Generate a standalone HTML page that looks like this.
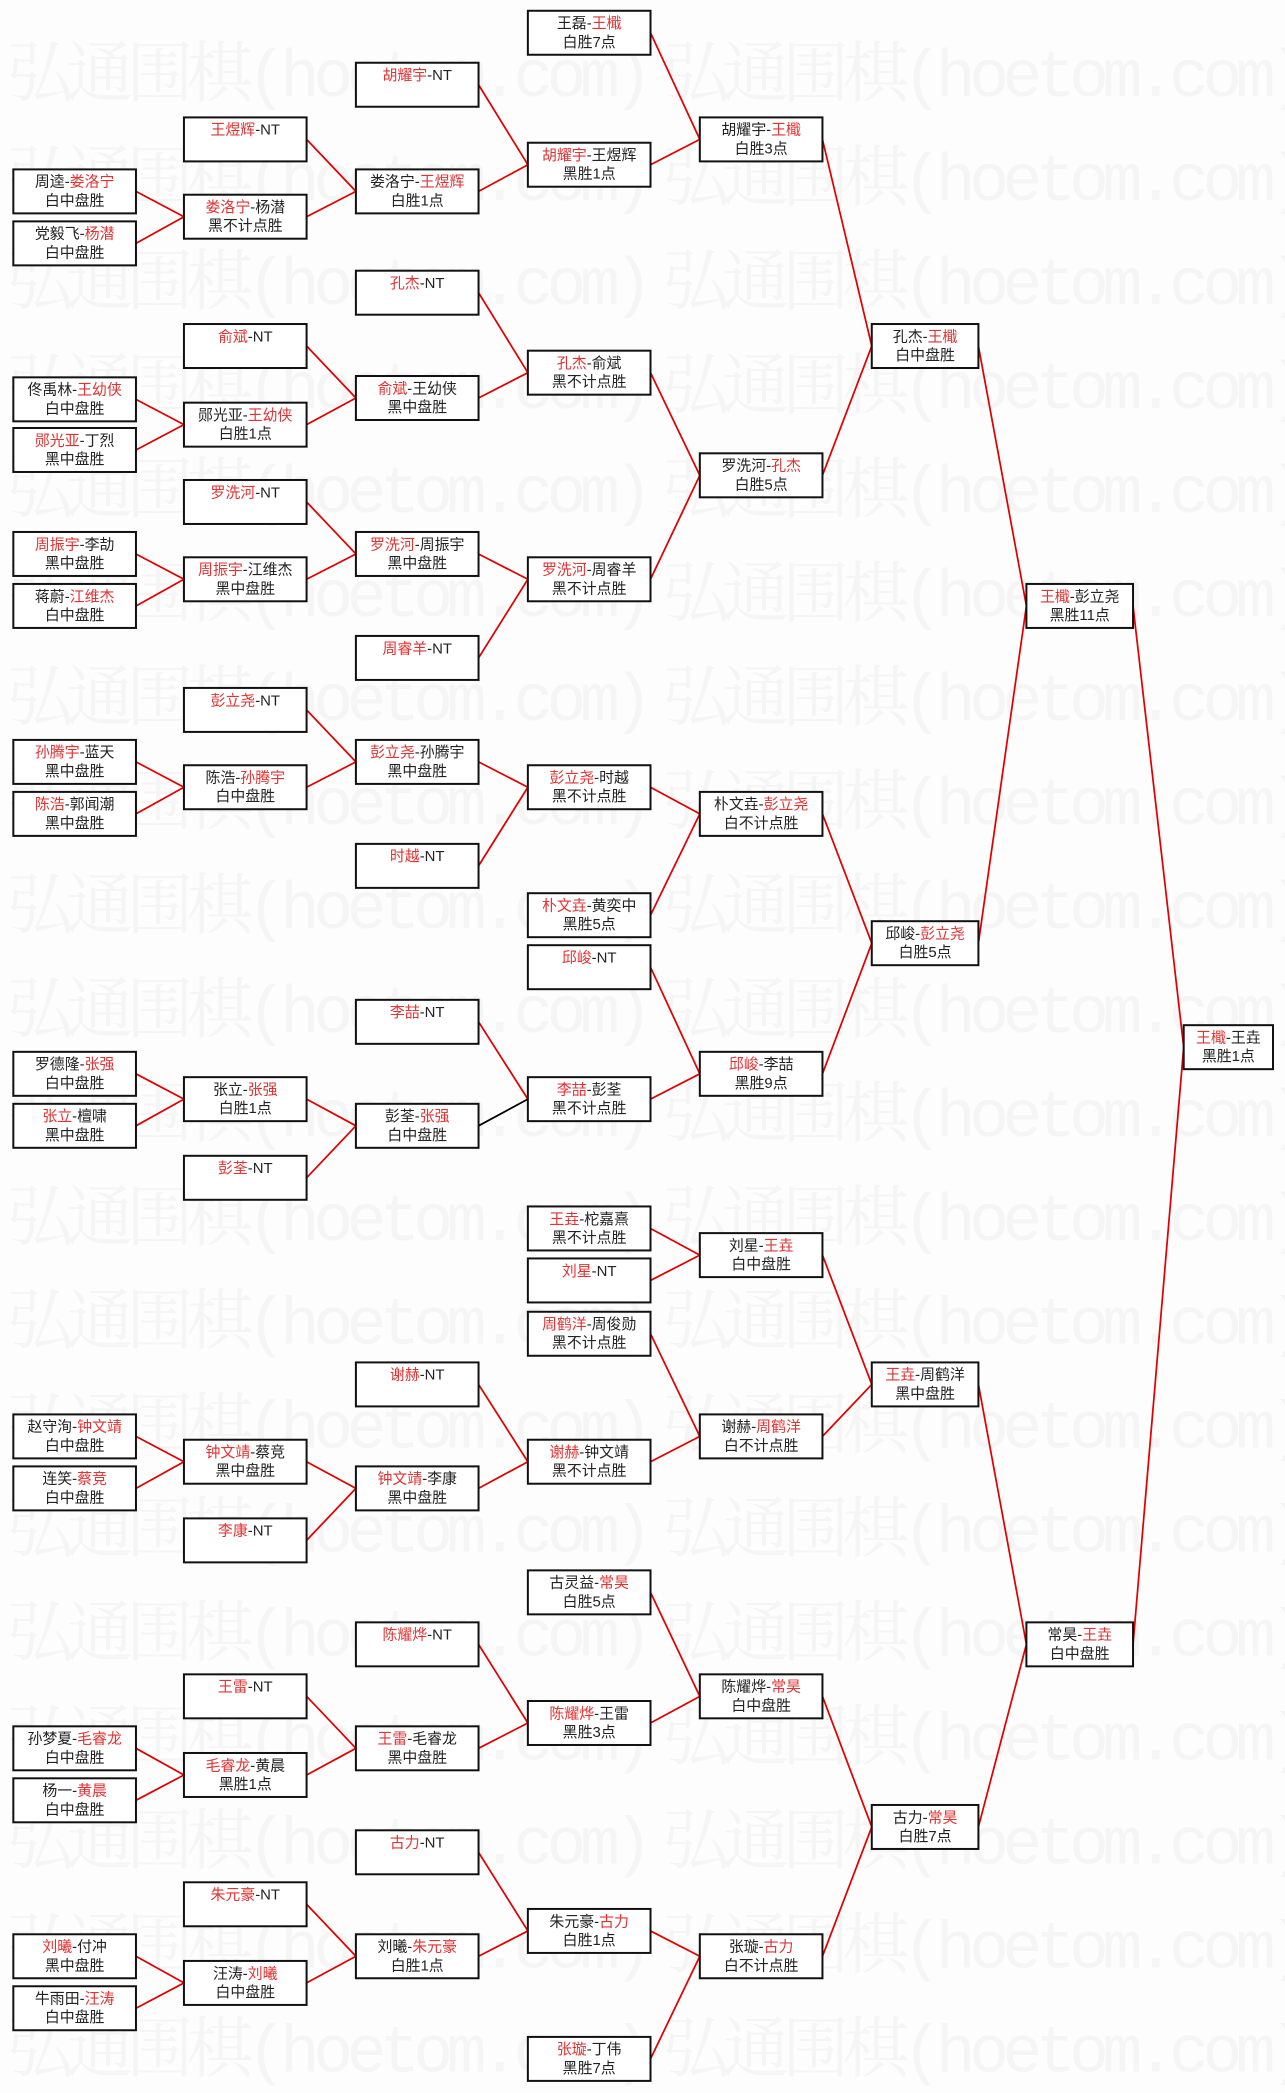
<!DOCTYPE html>
<html><head><meta charset="utf-8"><style>
html,body{margin:0;padding:0;background:#fdfdfd;}
svg{display:block}
rect.b{fill:#fff;stroke:#111;stroke-width:1.5}
text{font-family:"Liberation Sans","Noto Sans CJK SC","WenQuanYi Zen Hei",sans-serif;font-size:11.2px;fill:#222;text-anchor:middle}
.r{fill:#e23232}
.wm{font-family:"Liberation Mono","Noto Serif CJK SC",monospace;font-size:50px;fill:#f5f5f5;text-anchor:start}
</style></head><body>
<svg width="1285" height="2093" viewBox="0 0 964 1570" xmlns="http://www.w3.org/2000/svg">
<rect width="964" height="1570" fill="#fdfdfd"/>
<g>
<text class="wm" x="5" y="72" textLength="485">弘通围棋(hoetom.com)</text><text class="wm" x="497" y="72" textLength="485">弘通围棋(hoetom.com)</text>
<text class="wm" x="5" y="150" textLength="485">弘通围棋(hoetom.com)</text><text class="wm" x="497" y="150" textLength="485">弘通围棋(hoetom.com)</text>
<text class="wm" x="5" y="228" textLength="485">弘通围棋(hoetom.com)</text><text class="wm" x="497" y="228" textLength="485">弘通围棋(hoetom.com)</text>
<text class="wm" x="5" y="306" textLength="485">弘通围棋(hoetom.com)</text><text class="wm" x="497" y="306" textLength="485">弘通围棋(hoetom.com)</text>
<text class="wm" x="5" y="384" textLength="485">弘通围棋(hoetom.com)</text><text class="wm" x="497" y="384" textLength="485">弘通围棋(hoetom.com)</text>
<text class="wm" x="5" y="462" textLength="485">弘通围棋(hoetom.com)</text><text class="wm" x="497" y="462" textLength="485">弘通围棋(hoetom.com)</text>
<text class="wm" x="5" y="540" textLength="485">弘通围棋(hoetom.com)</text><text class="wm" x="497" y="540" textLength="485">弘通围棋(hoetom.com)</text>
<text class="wm" x="5" y="618" textLength="485">弘通围棋(hoetom.com)</text><text class="wm" x="497" y="618" textLength="485">弘通围棋(hoetom.com)</text>
<text class="wm" x="5" y="696" textLength="485">弘通围棋(hoetom.com)</text><text class="wm" x="497" y="696" textLength="485">弘通围棋(hoetom.com)</text>
<text class="wm" x="5" y="774" textLength="485">弘通围棋(hoetom.com)</text><text class="wm" x="497" y="774" textLength="485">弘通围棋(hoetom.com)</text>
<text class="wm" x="5" y="852" textLength="485">弘通围棋(hoetom.com)</text><text class="wm" x="497" y="852" textLength="485">弘通围棋(hoetom.com)</text>
<text class="wm" x="5" y="930" textLength="485">弘通围棋(hoetom.com)</text><text class="wm" x="497" y="930" textLength="485">弘通围棋(hoetom.com)</text>
<text class="wm" x="5" y="1008" textLength="485">弘通围棋(hoetom.com)</text><text class="wm" x="497" y="1008" textLength="485">弘通围棋(hoetom.com)</text>
<text class="wm" x="5" y="1086" textLength="485">弘通围棋(hoetom.com)</text><text class="wm" x="497" y="1086" textLength="485">弘通围棋(hoetom.com)</text>
<text class="wm" x="5" y="1164" textLength="485">弘通围棋(hoetom.com)</text><text class="wm" x="497" y="1164" textLength="485">弘通围棋(hoetom.com)</text>
<text class="wm" x="5" y="1242" textLength="485">弘通围棋(hoetom.com)</text><text class="wm" x="497" y="1242" textLength="485">弘通围棋(hoetom.com)</text>
<text class="wm" x="5" y="1320" textLength="485">弘通围棋(hoetom.com)</text><text class="wm" x="497" y="1320" textLength="485">弘通围棋(hoetom.com)</text>
<text class="wm" x="5" y="1398" textLength="485">弘通围棋(hoetom.com)</text><text class="wm" x="497" y="1398" textLength="485">弘通围棋(hoetom.com)</text>
<text class="wm" x="5" y="1476" textLength="485">弘通围棋(hoetom.com)</text><text class="wm" x="497" y="1476" textLength="485">弘通围棋(hoetom.com)</text>
<text class="wm" x="5" y="1554" textLength="485">弘通围棋(hoetom.com)</text><text class="wm" x="497" y="1554" textLength="485">弘通围棋(hoetom.com)</text>
</g>
<path fill="none" stroke="#e00000" stroke-width="1.3" d="
M102 143.5L138 162.5 M102 182.5L138 162.5
M102 299.5L138 318.5 M102 337.5L138 318.5
M102 415.5L138 434.5 M102 454.5L138 434.5
M102 571.5L138 590.5 M102 610.5L138 590.5
M102 805.5L138 824.5 M102 844.5L138 824.5
M102 1077.5L138 1096.5 M102 1116.5L138 1096.5
M102 1311.5L138 1331.5 M102 1350.5L138 1331.5
M102 1467.5L138 1487.5 M102 1506.5L138 1487.5
M230 104.5L267 143.5 M230 162.5L267 143.5
M230 259.5L267 298.5 M230 318.5L267 298.5
M230 376.5L267 415.5 M230 434.5L267 415.5
M230 532.5L267 571.5 M230 590.5L267 571.5
M230 824.5L267 844.5 M230 883.5L267 844.5
M230 1096.5L267 1116.5 M230 1155.5L267 1116.5
M230 1272.5L267 1311.5 M230 1331.5L267 1311.5
M230 1428.5L267 1467.5 M230 1487.5L267 1467.5
M359 63.5L396 123.5 M359 143.5L396 123.5
M359 219.5L396 279.5 M359 298.5L396 279.5
M359 415.5L396 434.5 M359 493.5L396 434.5
M359 571.5L396 590.5 M359 649.5L396 590.5
M359 766.5L396 824.5
M359 1038.5L396 1096.5 M359 1116.5L396 1096.5
M359 1233.5L396 1292.5 M359 1311.5L396 1292.5
M359 1389.5L396 1448.5 M359 1467.5L396 1448.5
M488 24.5L525 104.5 M488 123.5L525 104.5
M488 279.5L525 356.5 M488 434.5L525 356.5
M488 590.5L525 610.5 M488 686.5L525 610.5
M488 725.5L525 805.5 M488 824.5L525 805.5
M488 921.5L525 941.5 M488 960.5L525 941.5
M488 1000.5L525 1077.5 M488 1096.5L525 1077.5
M488 1194.5L525 1272.5 M488 1292.5L525 1272.5
M488 1448.5L525 1467.5 M488 1544.5L525 1467.5
M617 104.5L654 259.5 M617 356.5L654 259.5
M617 610.5L654 707.5 M617 805.5L654 707.5
M617 941.5L654 1038.5 M617 1077.5L654 1038.5
M617 1272.5L654 1370.5 M617 1467.5L654 1370.5
M734 259.5L770 454.5 M734 707.5L770 454.5
M734 1038.5L770 1233.5 M734 1370.5L770 1233.5
M850 454.5L888 785.5 M850 1233.5L888 785.5"/>
<path fill="none" stroke="#000" stroke-width="1.3" d="M359 844.5L396 824.5"/>

<!-- col0 -->
<g transform="translate(10,127)"><rect class="b" width="92" height="33"/><text x="46" y="13">周逵-<tspan class="r">娄洛宁</tspan></text><text x="46" y="27">白中盘胜</text></g>
<g transform="translate(10,166)"><rect class="b" width="92" height="33"/><text x="46" y="13">党毅飞-<tspan class="r">杨潜</tspan></text><text x="46" y="27">白中盘胜</text></g>
<g transform="translate(10,283)"><rect class="b" width="92" height="33"/><text x="46" y="13">佟禹林-<tspan class="r">王幼侠</tspan></text><text x="46" y="27">白中盘胜</text></g>
<g transform="translate(10,321)"><rect class="b" width="92" height="33"/><text x="46" y="13"><tspan class="r">郧光亚</tspan>-丁烈</text><text x="46" y="27">黑中盘胜</text></g>
<g transform="translate(10,399)"><rect class="b" width="92" height="33"/><text x="46" y="13"><tspan class="r">周振宇</tspan>-李劼</text><text x="46" y="27">黑中盘胜</text></g>
<g transform="translate(10,438)"><rect class="b" width="92" height="33"/><text x="46" y="13">蒋蔚-<tspan class="r">江维杰</tspan></text><text x="46" y="27">白中盘胜</text></g>
<g transform="translate(10,555)"><rect class="b" width="92" height="33"/><text x="46" y="13"><tspan class="r">孙腾宇</tspan>-蓝天</text><text x="46" y="27">黑中盘胜</text></g>
<g transform="translate(10,594)"><rect class="b" width="92" height="33"/><text x="46" y="13"><tspan class="r">陈浩</tspan>-郭闻潮</text><text x="46" y="27">黑中盘胜</text></g>
<g transform="translate(10,789)"><rect class="b" width="92" height="33"/><text x="46" y="13">罗德隆-<tspan class="r">张强</tspan></text><text x="46" y="27">白中盘胜</text></g>
<g transform="translate(10,828)"><rect class="b" width="92" height="33"/><text x="46" y="13"><tspan class="r">张立</tspan>-檀啸</text><text x="46" y="27">黑中盘胜</text></g>
<g transform="translate(10,1061)"><rect class="b" width="92" height="33"/><text x="46" y="13">赵守洵-<tspan class="r">钟文靖</tspan></text><text x="46" y="27">白中盘胜</text></g>
<g transform="translate(10,1100)"><rect class="b" width="92" height="33"/><text x="46" y="13">连笑-<tspan class="r">蔡竞</tspan></text><text x="46" y="27">白中盘胜</text></g>
<g transform="translate(10,1295)"><rect class="b" width="92" height="33"/><text x="46" y="13">孙梦夏-<tspan class="r">毛睿龙</tspan></text><text x="46" y="27">白中盘胜</text></g>
<g transform="translate(10,1334)"><rect class="b" width="92" height="33"/><text x="46" y="13">杨一-<tspan class="r">黄晨</tspan></text><text x="46" y="27">白中盘胜</text></g>
<g transform="translate(10,1451)"><rect class="b" width="92" height="33"/><text x="46" y="13"><tspan class="r">刘曦</tspan>-付冲</text><text x="46" y="27">黑中盘胜</text></g>
<g transform="translate(10,1490)"><rect class="b" width="92" height="33"/><text x="46" y="13">牛雨田-<tspan class="r">汪涛</tspan></text><text x="46" y="27">白中盘胜</text></g>

<!-- col1 -->
<g transform="translate(138,88)"><rect class="b" width="92" height="33"/><text x="46" y="13"><tspan class="r">王煜辉</tspan>-NT</text></g>
<g transform="translate(138,146)"><rect class="b" width="92" height="33"/><text x="46" y="13"><tspan class="r">娄洛宁</tspan>-杨潜</text><text x="46" y="27">黑不计点胜</text></g>
<g transform="translate(138,243)"><rect class="b" width="92" height="33"/><text x="46" y="13"><tspan class="r">俞斌</tspan>-NT</text></g>
<g transform="translate(138,302)"><rect class="b" width="92" height="33"/><text x="46" y="13">郧光亚-<tspan class="r">王幼侠</tspan></text><text x="46" y="27">白胜1点</text></g>
<g transform="translate(138,360)"><rect class="b" width="92" height="33"/><text x="46" y="13"><tspan class="r">罗洗河</tspan>-NT</text></g>
<g transform="translate(138,418)"><rect class="b" width="92" height="33"/><text x="46" y="13"><tspan class="r">周振宇</tspan>-江维杰</text><text x="46" y="27">黑中盘胜</text></g>
<g transform="translate(138,516)"><rect class="b" width="92" height="33"/><text x="46" y="13"><tspan class="r">彭立尧</tspan>-NT</text></g>
<g transform="translate(138,574)"><rect class="b" width="92" height="33"/><text x="46" y="13">陈浩-<tspan class="r">孙腾宇</tspan></text><text x="46" y="27">白中盘胜</text></g>
<g transform="translate(138,808)"><rect class="b" width="92" height="33"/><text x="46" y="13">张立-<tspan class="r">张强</tspan></text><text x="46" y="27">白胜1点</text></g>
<g transform="translate(138,867)"><rect class="b" width="92" height="33"/><text x="46" y="13"><tspan class="r">彭荃</tspan>-NT</text></g>
<g transform="translate(138,1080)"><rect class="b" width="92" height="33"/><text x="46" y="13"><tspan class="r">钟文靖</tspan>-蔡竞</text><text x="46" y="27">黑中盘胜</text></g>
<g transform="translate(138,1139)"><rect class="b" width="92" height="33"/><text x="46" y="13"><tspan class="r">李康</tspan>-NT</text></g>
<g transform="translate(138,1256)"><rect class="b" width="92" height="33"/><text x="46" y="13"><tspan class="r">王雷</tspan>-NT</text></g>
<g transform="translate(138,1315)"><rect class="b" width="92" height="33"/><text x="46" y="13"><tspan class="r">毛睿龙</tspan>-黄晨</text><text x="46" y="27">黑胜1点</text></g>
<g transform="translate(138,1412)"><rect class="b" width="92" height="33"/><text x="46" y="13"><tspan class="r">朱元豪</tspan>-NT</text></g>
<g transform="translate(138,1471)"><rect class="b" width="92" height="33"/><text x="46" y="13">汪涛-<tspan class="r">刘曦</tspan></text><text x="46" y="27">白中盘胜</text></g>

<!-- col2 -->
<g transform="translate(267,47)"><rect class="b" width="92" height="33"/><text x="46" y="13"><tspan class="r">胡耀宇</tspan>-NT</text></g>
<g transform="translate(267,127)"><rect class="b" width="92" height="33"/><text x="46" y="13">娄洛宁-<tspan class="r">王煜辉</tspan></text><text x="46" y="27">白胜1点</text></g>
<g transform="translate(267,203)"><rect class="b" width="92" height="33"/><text x="46" y="13"><tspan class="r">孔杰</tspan>-NT</text></g>
<g transform="translate(267,282)"><rect class="b" width="92" height="33"/><text x="46" y="13"><tspan class="r">俞斌</tspan>-王幼侠</text><text x="46" y="27">黑中盘胜</text></g>
<g transform="translate(267,399)"><rect class="b" width="92" height="33"/><text x="46" y="13"><tspan class="r">罗洗河</tspan>-周振宇</text><text x="46" y="27">黑中盘胜</text></g>
<g transform="translate(267,477)"><rect class="b" width="92" height="33"/><text x="46" y="13"><tspan class="r">周睿羊</tspan>-NT</text></g>
<g transform="translate(267,555)"><rect class="b" width="92" height="33"/><text x="46" y="13"><tspan class="r">彭立尧</tspan>-孙腾宇</text><text x="46" y="27">黑中盘胜</text></g>
<g transform="translate(267,633)"><rect class="b" width="92" height="33"/><text x="46" y="13"><tspan class="r">时越</tspan>-NT</text></g>
<g transform="translate(267,750)"><rect class="b" width="92" height="33"/><text x="46" y="13"><tspan class="r">李喆</tspan>-NT</text></g>
<g transform="translate(267,828)"><rect class="b" width="92" height="33"/><text x="46" y="13">彭荃-<tspan class="r">张强</tspan></text><text x="46" y="27">白中盘胜</text></g>
<g transform="translate(267,1022)"><rect class="b" width="92" height="33"/><text x="46" y="13"><tspan class="r">谢赫</tspan>-NT</text></g>
<g transform="translate(267,1100)"><rect class="b" width="92" height="33"/><text x="46" y="13"><tspan class="r">钟文靖</tspan>-李康</text><text x="46" y="27">黑中盘胜</text></g>
<g transform="translate(267,1217)"><rect class="b" width="92" height="33"/><text x="46" y="13"><tspan class="r">陈耀烨</tspan>-NT</text></g>
<g transform="translate(267,1295)"><rect class="b" width="92" height="33"/><text x="46" y="13"><tspan class="r">王雷</tspan>-毛睿龙</text><text x="46" y="27">黑中盘胜</text></g>
<g transform="translate(267,1373)"><rect class="b" width="92" height="33"/><text x="46" y="13"><tspan class="r">古力</tspan>-NT</text></g>
<g transform="translate(267,1451)"><rect class="b" width="92" height="33"/><text x="46" y="13">刘曦-<tspan class="r">朱元豪</tspan></text><text x="46" y="27">白胜1点</text></g>

<!-- col3 -->
<g transform="translate(396,8)"><rect class="b" width="92" height="33"/><text x="46" y="13">王磊-<tspan class="r">王檝</tspan></text><text x="46" y="27">白胜7点</text></g>
<g transform="translate(396,107)"><rect class="b" width="92" height="33"/><text x="46" y="13"><tspan class="r">胡耀宇</tspan>-王煜辉</text><text x="46" y="27">黑胜1点</text></g>
<g transform="translate(396,263)"><rect class="b" width="92" height="33"/><text x="46" y="13"><tspan class="r">孔杰</tspan>-俞斌</text><text x="46" y="27">黑不计点胜</text></g>
<g transform="translate(396,418)"><rect class="b" width="92" height="33"/><text x="46" y="13"><tspan class="r">罗洗河</tspan>-周睿羊</text><text x="46" y="27">黑不计点胜</text></g>
<g transform="translate(396,574)"><rect class="b" width="92" height="33"/><text x="46" y="13"><tspan class="r">彭立尧</tspan>-时越</text><text x="46" y="27">黑不计点胜</text></g>
<g transform="translate(396,670)"><rect class="b" width="92" height="33"/><text x="46" y="13"><tspan class="r">朴文垚</tspan>-黄奕中</text><text x="46" y="27">黑胜5点</text></g>
<g transform="translate(396,709)"><rect class="b" width="92" height="33"/><text x="46" y="13"><tspan class="r">邱峻</tspan>-NT</text></g>
<g transform="translate(396,808)"><rect class="b" width="92" height="33"/><text x="46" y="13"><tspan class="r">李喆</tspan>-彭荃</text><text x="46" y="27">黑不计点胜</text></g>
<g transform="translate(396,905)"><rect class="b" width="92" height="33"/><text x="46" y="13"><tspan class="r">王垚</tspan>-柁嘉熹</text><text x="46" y="27">黑不计点胜</text></g>
<g transform="translate(396,944)"><rect class="b" width="92" height="33"/><text x="46" y="13"><tspan class="r">刘星</tspan>-NT</text></g>
<g transform="translate(396,984)"><rect class="b" width="92" height="33"/><text x="46" y="13"><tspan class="r">周鹤洋</tspan>-周俊勋</text><text x="46" y="27">黑不计点胜</text></g>
<g transform="translate(396,1080)"><rect class="b" width="92" height="33"/><text x="46" y="13"><tspan class="r">谢赫</tspan>-钟文靖</text><text x="46" y="27">黑不计点胜</text></g>
<g transform="translate(396,1178)"><rect class="b" width="92" height="33"/><text x="46" y="13">古灵益-<tspan class="r">常昊</tspan></text><text x="46" y="27">白胜5点</text></g>
<g transform="translate(396,1276)"><rect class="b" width="92" height="33"/><text x="46" y="13"><tspan class="r">陈耀烨</tspan>-王雷</text><text x="46" y="27">黑胜3点</text></g>
<g transform="translate(396,1432)"><rect class="b" width="92" height="33"/><text x="46" y="13">朱元豪-<tspan class="r">古力</tspan></text><text x="46" y="27">白胜1点</text></g>
<g transform="translate(396,1528)"><rect class="b" width="92" height="33"/><text x="46" y="13"><tspan class="r">张璇</tspan>-丁伟</text><text x="46" y="27">黑胜7点</text></g>

<!-- col4 -->
<g transform="translate(525,88)"><rect class="b" width="92" height="33"/><text x="46" y="13">胡耀宇-<tspan class="r">王檝</tspan></text><text x="46" y="27">白胜3点</text></g>
<g transform="translate(525,340)"><rect class="b" width="92" height="33"/><text x="46" y="13">罗洗河-<tspan class="r">孔杰</tspan></text><text x="46" y="27">白胜5点</text></g>
<g transform="translate(525,594)"><rect class="b" width="92" height="33"/><text x="46" y="13">朴文垚-<tspan class="r">彭立尧</tspan></text><text x="46" y="27">白不计点胜</text></g>
<g transform="translate(525,789)"><rect class="b" width="92" height="33"/><text x="46" y="13"><tspan class="r">邱峻</tspan>-李喆</text><text x="46" y="27">黑胜9点</text></g>
<g transform="translate(525,925)"><rect class="b" width="92" height="33"/><text x="46" y="13">刘星-<tspan class="r">王垚</tspan></text><text x="46" y="27">白中盘胜</text></g>
<g transform="translate(525,1061)"><rect class="b" width="92" height="33"/><text x="46" y="13">谢赫-<tspan class="r">周鹤洋</tspan></text><text x="46" y="27">白不计点胜</text></g>
<g transform="translate(525,1256)"><rect class="b" width="92" height="33"/><text x="46" y="13">陈耀烨-<tspan class="r">常昊</tspan></text><text x="46" y="27">白中盘胜</text></g>
<g transform="translate(525,1451)"><rect class="b" width="92" height="33"/><text x="46" y="13">张璇-<tspan class="r">古力</tspan></text><text x="46" y="27">白不计点胜</text></g>

<!-- col5 -->
<g transform="translate(654,243)"><rect class="b" width="80" height="33"/><text x="40" y="13">孔杰-<tspan class="r">王檝</tspan></text><text x="40" y="27">白中盘胜</text></g>
<g transform="translate(654,691)"><rect class="b" width="80" height="33"/><text x="40" y="13">邱峻-<tspan class="r">彭立尧</tspan></text><text x="40" y="27">白胜5点</text></g>
<g transform="translate(654,1022)"><rect class="b" width="80" height="33"/><text x="40" y="13"><tspan class="r">王垚</tspan>-周鹤洋</text><text x="40" y="27">黑中盘胜</text></g>
<g transform="translate(654,1354)"><rect class="b" width="80" height="33"/><text x="40" y="13">古力-<tspan class="r">常昊</tspan></text><text x="40" y="27">白胜7点</text></g>

<!-- col6 -->
<g transform="translate(770,438)"><rect class="b" width="80" height="33"/><text x="40" y="13"><tspan class="r">王檝</tspan>-彭立尧</text><text x="40" y="27">黑胜11点</text></g>
<g transform="translate(770,1217)"><rect class="b" width="80" height="33"/><text x="40" y="13">常昊-<tspan class="r">王垚</tspan></text><text x="40" y="27">白中盘胜</text></g>

<!-- col7 -->
<g transform="translate(888,769)"><rect class="b" width="67" height="33"/><text x="33.5" y="13"><tspan class="r">王檝</tspan>-王垚</text><text x="33.5" y="27">黑胜1点</text></g>
</svg>
</body></html>
